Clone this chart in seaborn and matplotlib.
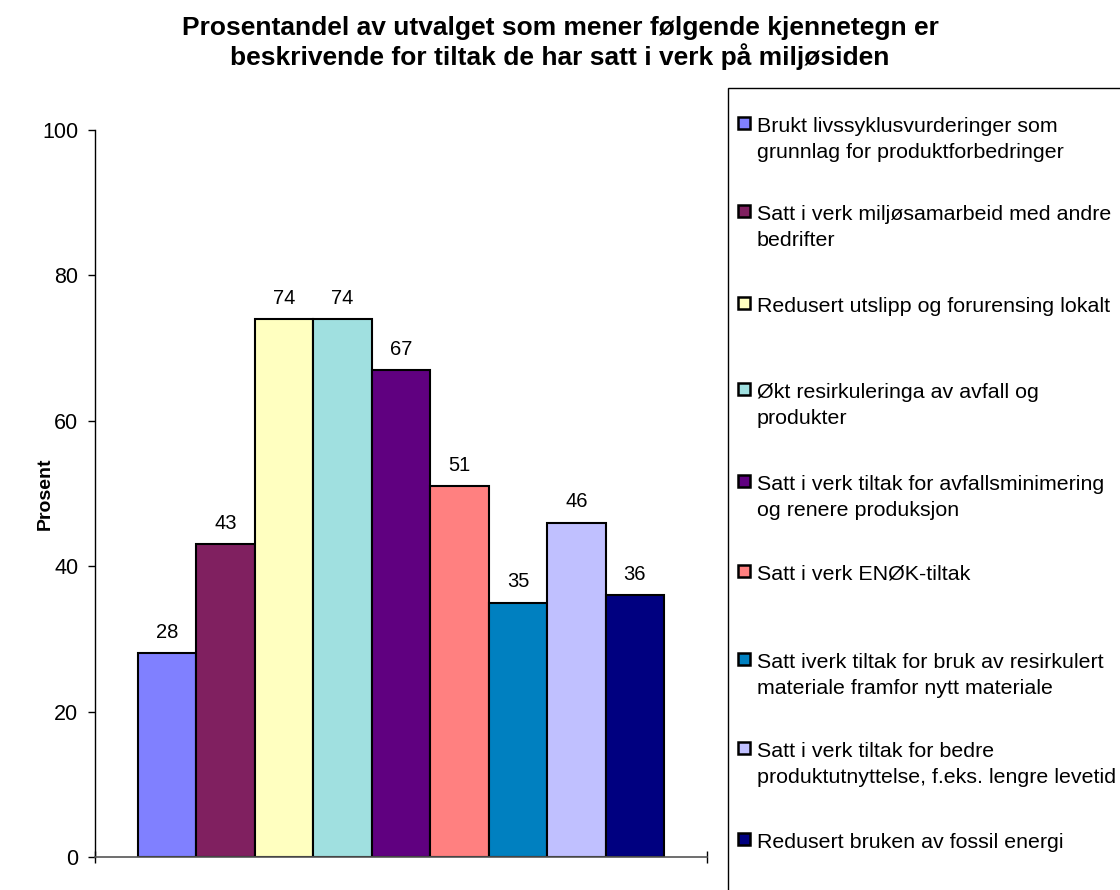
import matplotlib
matplotlib.use("Agg")
import matplotlib.pyplot as plt
from matplotlib.patches import Rectangle
import seaborn as sns
import pandas as pd

# ---- data ----
measures = [
    "Brukt livssyklusvurderinger som\ngrunnlag for produktforbedringer",
    "Satt i verk miljøsamarbeid med andre\nbedrifter",
    "Redusert utslipp og forurensing lokalt",
    "Økt resirkuleringa av avfall og\nprodukter",
    "Satt i verk tiltak for avfallsminimering\nog renere produksjon",
    "Satt i verk ENØK-tiltak",
    "Satt iverk tiltak for bruk av resirkulert\nmateriale framfor nytt materiale",
    "Satt i verk tiltak for bedre\nproduktutnyttelse, f.eks. lengre levetid",
    "Redusert bruken av fossil energi",
]
percent = [28, 43, 74, 74, 67, 51, 35, 46, 36]
colors = ["#8080FF", "#802060", "#FFFFC0", "#A0E0E0", "#600080",
          "#FF8080", "#0080C0", "#C0C0FF", "#000080"]
yticks = [0, 20, 40, 60, 80, 100]
title = ("Prosentandel av utvalget som mener følgende kjennetegn er\n"
         "beskrivende for tiltak de har satt i verk på miljøsiden")
ylabel = "Prosent"

df = pd.DataFrame({"group": [""] * len(measures), "measure": measures, "percent": percent})

sns.set_theme(style="white")
plt.rcParams["font.family"] = ["Liberation Sans", "DejaVu Sans"]
for k in ["text.color", "axes.labelcolor", "xtick.color", "ytick.color"]:
    plt.rcParams[k] = "black"

W, H = 1120, 890
fig = plt.figure(figsize=(W / 100, H / 100), dpi=100)
ax = fig.add_axes([95 / W, 1 - 857 / H, (707 - 95) / W, (857 - 130) / H])

sns.barplot(data=df, x="group", y="percent", hue="measure", hue_order=measures,
            palette=colors, width=0.86, edgecolor="black", linewidth=1.5,
            saturation=1, legend=False, ax=ax)

for cont in ax.containers:
    ax.bar_label(cont, fmt="%d", padding=8, fontsize=14.5, color="black")

ax.set_xlim(-0.5, 0.5)
ax.set_ylim(0, 100)
ax.set_yticks(yticks)
ax.set_yticklabels([str(t) for t in yticks], fontsize=15.5)
ax.set_xticks([-0.5, 0.5])
ax.set_xticklabels(["", ""])
ax.tick_params(axis="y", direction="out", length=5, width=1, color="black", pad=7, left=True)
ax.tick_params(axis="x", direction="inout", length=8, width=1, color="black", bottom=True)
ax.set_xlabel("")
ax.set_ylabel(ylabel, fontsize=14, fontweight="bold")
ax.yaxis.set_label_coords((54 - 95) / 612, 0.5)
for s in ["top", "right"]:
    ax.spines[s].set_visible(False)
ax.spines["left"].set_color("black")
ax.spines["left"].set_linewidth(1)
ax.spines["bottom"].set_color("#555555")
ax.spines["bottom"].set_linewidth(1.2)

fig.text(0.5, 1 - 43 / H, title, ha="center", va="center", fontsize=19,
         fontweight="bold", linespacing=1.12)

# ---- legend box (manual) ----
fig.patches.append(Rectangle((728 / W, -0.05), 0.5, 1 - 88 / H + 0.05,
                             transform=fig.transFigure, facecolor="white",
                             edgecolor="black", linewidth=1, zorder=0))
baselines = [132, 220, 312, 398, 490, 580, 668, 757, 848]
step = 26
for lab, col, b in zip(measures, colors, baselines):
    n = lab.count("\n")
    fig.patches.append(Rectangle((738 / W, 1 - (b - 3) / H), 12 / W, 12 / H,
                                 transform=fig.transFigure, facecolor=col,
                                 edgecolor="black", linewidth=1.8, zorder=2))
    fig.text(757 / W, 1 - (b + n * step) / H, lab, ha="left", va="baseline",
             fontsize=15.4, linespacing=1.46)

fig.savefig("out.png", dpi=100)
